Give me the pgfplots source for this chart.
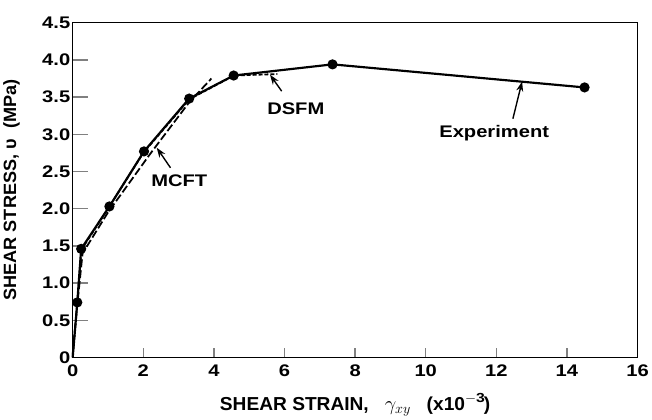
\documentclass[border=0pt]{standalone}
\usepackage{pgfplots}
\pgfplotsset{compat=1.18}
\usepackage{fontspec}
\setmainfont{Liberation Sans}[FakeStretch=1.2, BoldFeatures={FakeStretch=1.2}]
\newfontfamily\labfont{Liberation Sans}[BoldFeatures={FakeStretch=1.02}]
\usetikzlibrary{arrows.meta}
\begin{document}
\begin{tikzpicture}
\begin{axis}[
  scale only axis,
  width=572bp, height=339bp,
  xmin=0, xmax=16, ymin=0, ymax=4.5,
  xtick={0,2,...,16},
  ytick={0,0.5,...,4.5},
  yticklabels={0,0.5,1.0,1.5,2.0,2.5,3.0,3.5,4.0,4.5},
  xtick pos=left, ytick pos=left,
  tick align=inside,
  xtick style={line width=1.3pt,/pgfplots/major tick length=10bp},
  ytick style={line width=1.3pt,/pgfplots/major tick length=15bp},
  axis line style={line width=1.4pt},
  /pgf/number format/assume math mode=true,
  ticklabel style={font=\fontsize{17bp}{18bp}\selectfont\bfseries},
  xticklabel style={yshift=-4bp},
  yticklabel style={xshift=1bp},
  xlabel={\labfont\fontsize{19bp}{20bp}\selectfont\bfseries SHEAR STRAIN,\ \ \ $\gamma_{xy}$\ \ \ (x10$^{\mathbf{-3}}$)},
  ylabel={\labfont\fontsize{18bp}{19bp}\selectfont\bfseries SHEAR STRESS, υ\ \ (MPa)},
  xlabel style={at={(axis description cs:0.5,0)},anchor=north,yshift=-33bp},
  ylabel style={at={(axis description cs:0,0.5)},anchor=south,yshift=50bp},
  clip=false,
]
% MCFT
\addplot[line width=1.8pt, dash pattern=on 8bp off 3bp] coordinates {
 (0,0.05) (0.15,0.8) (0.28,1.4) (1.0,1.95) (2.2,2.74) (3.3,3.43) (3.93,3.75)};
% DSFM
\addplot[line width=1.8pt, dash pattern=on 4bp off 2bp] coordinates {
 (0,0.02) (0.13,0.74) (0.25,1.45) (1.0,2.0) (2.0,2.75) (3.3,3.47) (4.57,3.79) (5.8,3.81)};
% Experiment
\addplot[line width=2.2pt, mark=*, mark size=4bp, mark options={solid}, mark indices={2,3,4,5,6,7,8,9}] coordinates {
 (0,0) (0.13,0.74) (0.24,1.46) (1.04,2.03) (2.02,2.77) (3.30,3.48) (4.56,3.79) (7.36,3.94) (14.50,3.63)};
\draw[-{Stealth[length=10bp,width=7bp]}, line width=1.4pt] (axis cs:2.77,2.55) -- (axis cs:2.38,2.82);
\draw[-{Stealth[length=10bp,width=7bp]}, line width=1.4pt] (axis cs:5.92,3.58) -- (axis cs:5.59,3.80);
\draw[-{Stealth[length=10bp,width=7bp]}, line width=1.4pt] (axis cs:12.47,3.21) -- (axis cs:12.73,3.71);
\node[font=\fontsize{17bp}{18bp}\selectfont\bfseries] at (axis cs:3.02,2.37) {MCFT};
\node[font=\fontsize{17bp}{18bp}\selectfont\bfseries] at (axis cs:6.32,3.35) {DSFM};
\node[font=\fontsize{17bp}{18bp}\selectfont\bfseries] at (axis cs:11.94,3.02) {Experiment};
\end{axis}
\path (current axis.south west) ++(-71bp,-54bp) coordinate (bbA);
\path (current axis.north east) ++(9bp,23bp) coordinate (bbB);
\path[use as bounding box] (bbA) rectangle (bbB);
\end{tikzpicture}
\end{document}
